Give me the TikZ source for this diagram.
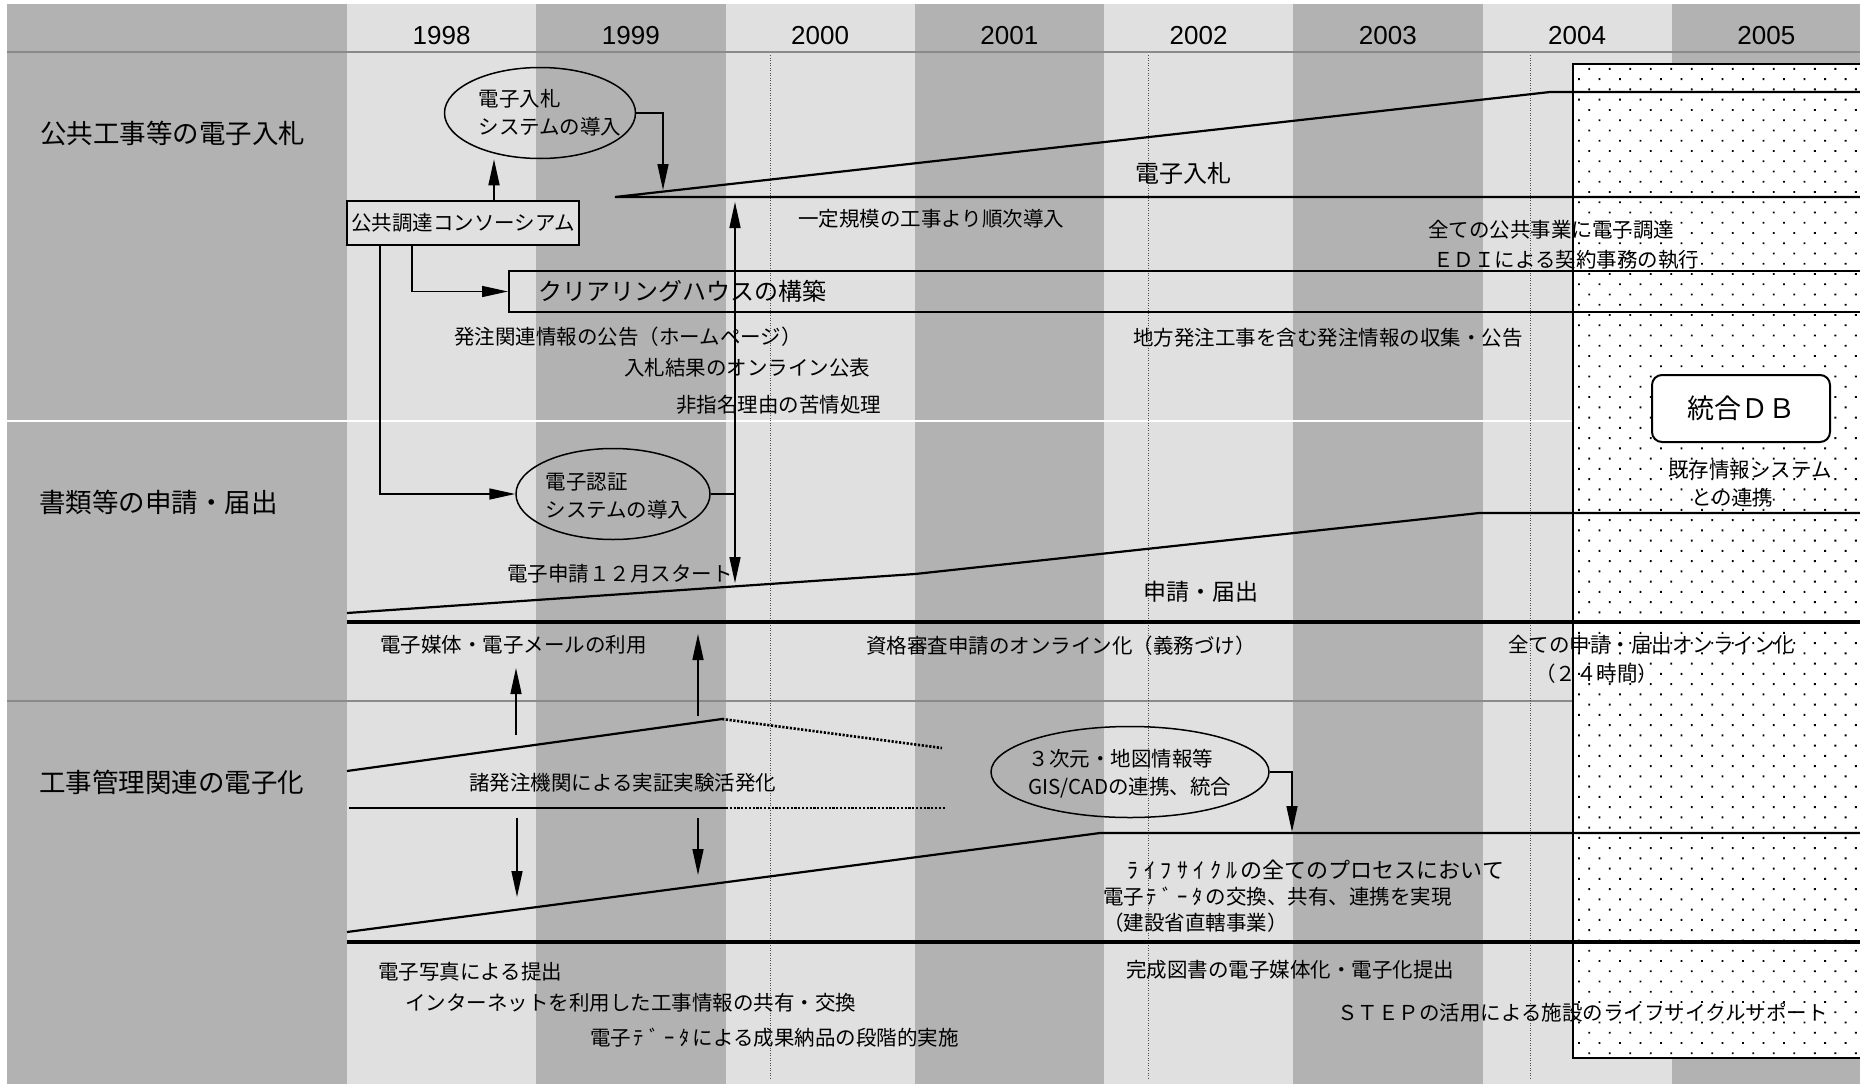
\documentclass[tikz,border=0pt]{standalone}
\usepackage{fontspec}
\setmainfont{Noto Sans CJK JP}
\newfontfamily\yrfont{Liberation Sans}
\usetikzlibrary{shapes.geometric,arrows.meta,patterns.meta}
\definecolor{colL}{HTML}{E0E0E0}
\definecolor{colD}{HTML}{B2B2B2}
\definecolor{sepG}{HTML}{8A8A8A}
\newcommand\hc[1]{\makebox[0.75em][c]{#1}}
\begin{document}
\begin{tikzpicture}[x=1pt,y=-1pt,
  txt/.style={anchor=west, inner sep=0pt, font=\fontsize{20.5}{24}\selectfont, text height=17pt, text depth=1.4pt},
  big/.style={anchor=west, inner sep=0pt, font=\fontsize{24}{28}\selectfont, text height=19.9pt, text depth=1.7pt},
  rowlbl/.style={anchor=west, inner sep=0pt, font=\fontsize{26.5}{30}\selectfont, text height=22pt, text depth=1.9pt},
  yr/.style={inner sep=0pt, font=\yrfont\fontsize{26}{30}\selectfont, text height=18.6pt, text depth=0pt},
  ell/.style={ellipse, draw, line width=1.5pt, inner sep=0pt, minimum height=91pt},
  ellt/.style={inner sep=0pt, align=left, font=\fontsize{20.5}{28}\selectfont},
  conn/.style={line width=1.5pt},
  arr/.style={line width=1.5pt, -{Triangle[length=26pt,width=11pt]}},
  trend/.style={line width=2.2pt},
  thickln/.style={line width=3.5pt},
  dotln/.style={line width=2.6pt, dash pattern=on 2.2pt off 1.6pt},
  vdot/.style={gray!60!black, line width=0.8pt, dash pattern=on 1pt off 1.5pt},
]
\useasboundingbox (0,0) rectangle (1860,1084);
\fill[white] (0,0) rectangle (1860,1084);
% label column and year columns
\fill[colD] (7,4) rectangle (347,1084);
\foreach \i/\yy in {0/1998,1/1999,2/2000,3/2001,4/2002,5/2003,6/2004,7/2005}{
  \pgfmathsetmacro\xa{347+\i*189.25}
  \pgfmathsetmacro\xb{\xa+189.25}
  \ifodd\i \def\cc{colD}\else\def\cc{colL}\fi
  \fill[\cc] (\xa,4) rectangle (\xb,1084);
  \node[yr] (y\yy) at ({(\xa+\xb)/2},35) {\yy};
}
% header and row separators
\draw[sepG, line width=2.5pt] (7,52) -- (1860,52);
\draw[white, line width=2.5pt] (7,421) -- (1573,421);
\draw[sepG, line width=2.5pt] (7,701) -- (1573,701);
% thin dotted verticals
\foreach \xx in {770,1148,1530}{\draw[vdot] (\xx,55) -- (\xx,1078);}
% dotted region
\fill[white] (1573,64) rectangle (1868,1058);
\fill[pattern={Dots[distance=14.5pt,angle=45,radius=1.35pt]}, pattern color=black] (1573,64) rectangle (1868,1058);
\draw[line width=2.5pt] (1868,64) -- (1573,64) -- (1573,1058) -- (1868,1058);

% row labels
\node[rowlbl] (r1) at (40,133) {公共工事等の電子入札};
\node[rowlbl] (r2) at (39,502) {書類等の申請・届出};
\node[rowlbl] (r3) at (39,782) {工事管理関連の電子化};

% ---- row 1 ----
\coordinate (b0) at (615,197);
\coordinate (b1) at (1550,92);
\coordinate (bR1) at (1868,92);
\coordinate (bR0) at (1868,197);
\draw[trend] (bR0) -- (b0) -- (b1) -- (bR1);
\node[big] (tb) at (1135,173) {電子入札};

\node[draw, line width=1.8pt, fill=colL, minimum width=232pt, minimum height=44pt, inner sep=0pt, font=\fontsize{20.5}{24}\selectfont] (cons) at (463,223) {公共調達コンソーシアム};
\node[ell, minimum width=191pt, label={[ellt, xshift=10pt]center:{電子入札\\システムの導入}}] (e1) at (540,113) {};
\node[draw, line width=2pt, anchor=west, minimum height=41pt, text width=1320pt, inner xsep=29pt, inner ysep=0pt, align=left, font=\fontsize{24}{28}\selectfont] (ch) at (508,291.5) {クリアリングハウスの構築};

\coordinate (e1tip) at (663,190);
\draw[arr] (e1.east) -| (e1tip);
\draw[arr] ([xshift=31pt]cons.north) -- ([xshift=31pt]cons.north |- e1.south);
\draw[arr] ([xshift=-51pt]cons.south) |- (ch.west);

\node[txt] (t1) at (798,219) {一定規模の工事より順次導入};
\node[txt] (t2) at (1428,230) {全ての公共事業に電子調達};
\node[txt] (t3) at (1433,260) {ＥＤＩによる契約事務の執行};
\node[txt] (t4) at (454,337) {発注関連情報の公告（ホームページ）};
\node[txt] (t5) at (624,368) {入札結果のオンライン公表};
\node[txt] (t6) at (676,405) {非指名理由の苦情処理};
\node[txt] (t7) at (1133,338) {地方発注工事を含む発注情報の収集・公告};

\node[draw, line width=2pt, rounded corners=10pt, fill=white, minimum width=178pt, minimum height=67pt, inner sep=0pt, font=\fontsize{27}{30}\selectfont] (db) at (1741,408.5) {統合ＤＢ};
\node[txt] (t8) at (1668,470) {既存情報システム};
\node[txt] (t9) at (1691,498) {との連携};

% ---- row 2 ----
\node[ell, minimum width=194pt, label={[ellt, xshift=4pt, yshift=-2pt]center:{電子認証\\システムの導入}}] (e2) at (613,494) {};
\draw[arr] ([xshift=-83pt]cons.south) |- (e2.west);
\coordinate (vtop) at (735,202);
\coordinate (vmid) at (735,494);
\coordinate (vbot) at (735,583);
\draw[conn] (e2.east) -- (vmid);
\draw[arr] (vmid) -- (vtop);
\draw[arr] (vmid) -- (vbot);

\coordinate (a0) at (347,613);
\coordinate (a1) at (915,574);
\coordinate (a2) at (1479,513);
\coordinate (aR) at (1868,513);
\draw[trend] (a0) -- (a1) -- (a2) -- (aR);
\coordinate (h0) at (347,622);
\coordinate (hR) at (1868,622);
\draw[thickln] (h0) -- (hR);

\node[txt] (s1) at (507,574) {電子申請１２月スタート};
\node[font=\fontsize{23}{26}\selectfont, anchor=west, inner sep=0pt, text height=19pt, text depth=1.6pt] (s2) at (1143,592) {申請・届出};
\node[txt] (s3) at (380,645) {電子媒体・電子メールの利用};
\node[txt] (s4) at (866,646) {資格審査申請のオンライン化（義務づけ）};
\node[txt] (s5) at (1508,645) {全ての申請・届出オンライン化};
\node[txt] (s6) at (1535,674) {（２４時間）};

% ---- row 3 ----
\coordinate (c0) at (347,771);
\coordinate (c1) at (722,719);
\coordinate (c2) at (942,748);
\draw[trend] (c0) -- (c1);
\draw[dotln] (c1) -- (c2);
\coordinate (d0) at (349,808);
\coordinate (d1) at (726,808);
\coordinate (d2) at (945,808);
\draw[trend] (d0) -- (d1);
\draw[dotln] (d1) -- (d2);
\coordinate (f0) at (347,932);
\coordinate (f1) at (1100,833);
\coordinate (fR) at (1868,833);
\draw[trend] (f0) -- (f1) -- (fR);
\coordinate (g0) at (347,942);
\coordinate (gR) at (1868,942);
\draw[thickln] (g0) -- (gR);

\coordinate (u1s) at (516,735); \coordinate (u1e) at (516,668);
\coordinate (u2s) at (698,716); \coordinate (u2e) at (698,634);
\coordinate (w1s) at (517,818); \coordinate (w1e) at (517,897);
\coordinate (w2s) at (698,818); \coordinate (w2e) at (698,875);
\draw[arr] (u1s) -- (u1e);
\draw[arr] (u2s) -- (u2e);
\draw[arr] (w1s) -- (w1e);
\draw[arr] (w2s) -- (w2e);

\node[ell, minimum width=278pt, label={[ellt, yshift=-2pt]center:{３次元・地図情報等\\GIS/CADの連携、統合}}] (e3) at (1130,772) {};
\coordinate (e3tip) at (1292,832);
\draw[arr] (e3.east) -| (e3tip);

\node[txt] (m1) at (469,783) {諸発注機関による実証実験活発化};
\node[anchor=west, inner sep=0pt, font=\fontsize{22}{26}\selectfont, text height=18.2pt, text depth=1.5pt] (m2) at (1125,870) {\hc{ﾗ}\hc{ｲ}\hc{ﾌ}\hc{ｻ}\hc{ｲ}\hc{ｸ}\hc{ﾙ}の全てのプロセスにおいて};
\node[txt] (m3) at (1103,897) {電子\hc{ﾃ}\hc{ﾞ}\hc{ｰ}\hc{ﾀ}の交換、共有、連携を実現};
\node[txt] (m4) at (1103,923) {（建設省直轄事業）};
\node[txt] (m5) at (378,972) {電子写真による提出};
\node[txt] (m6) at (405,1003) {インターネットを利用した工事情報の共有・交換};
\node[txt] (m7) at (590,1038) {電子\hc{ﾃ}\hc{ﾞ}\hc{ｰ}\hc{ﾀ}による成果納品の段階的実施};
\node[txt] (m8) at (1126,970) {完成図書の電子媒体化・電子化提出};
\node[txt] (m9) at (1337,1013) {ＳＴＥＰの活用による施設のライフサイクルサポート};
\end{tikzpicture}
\end{document}
